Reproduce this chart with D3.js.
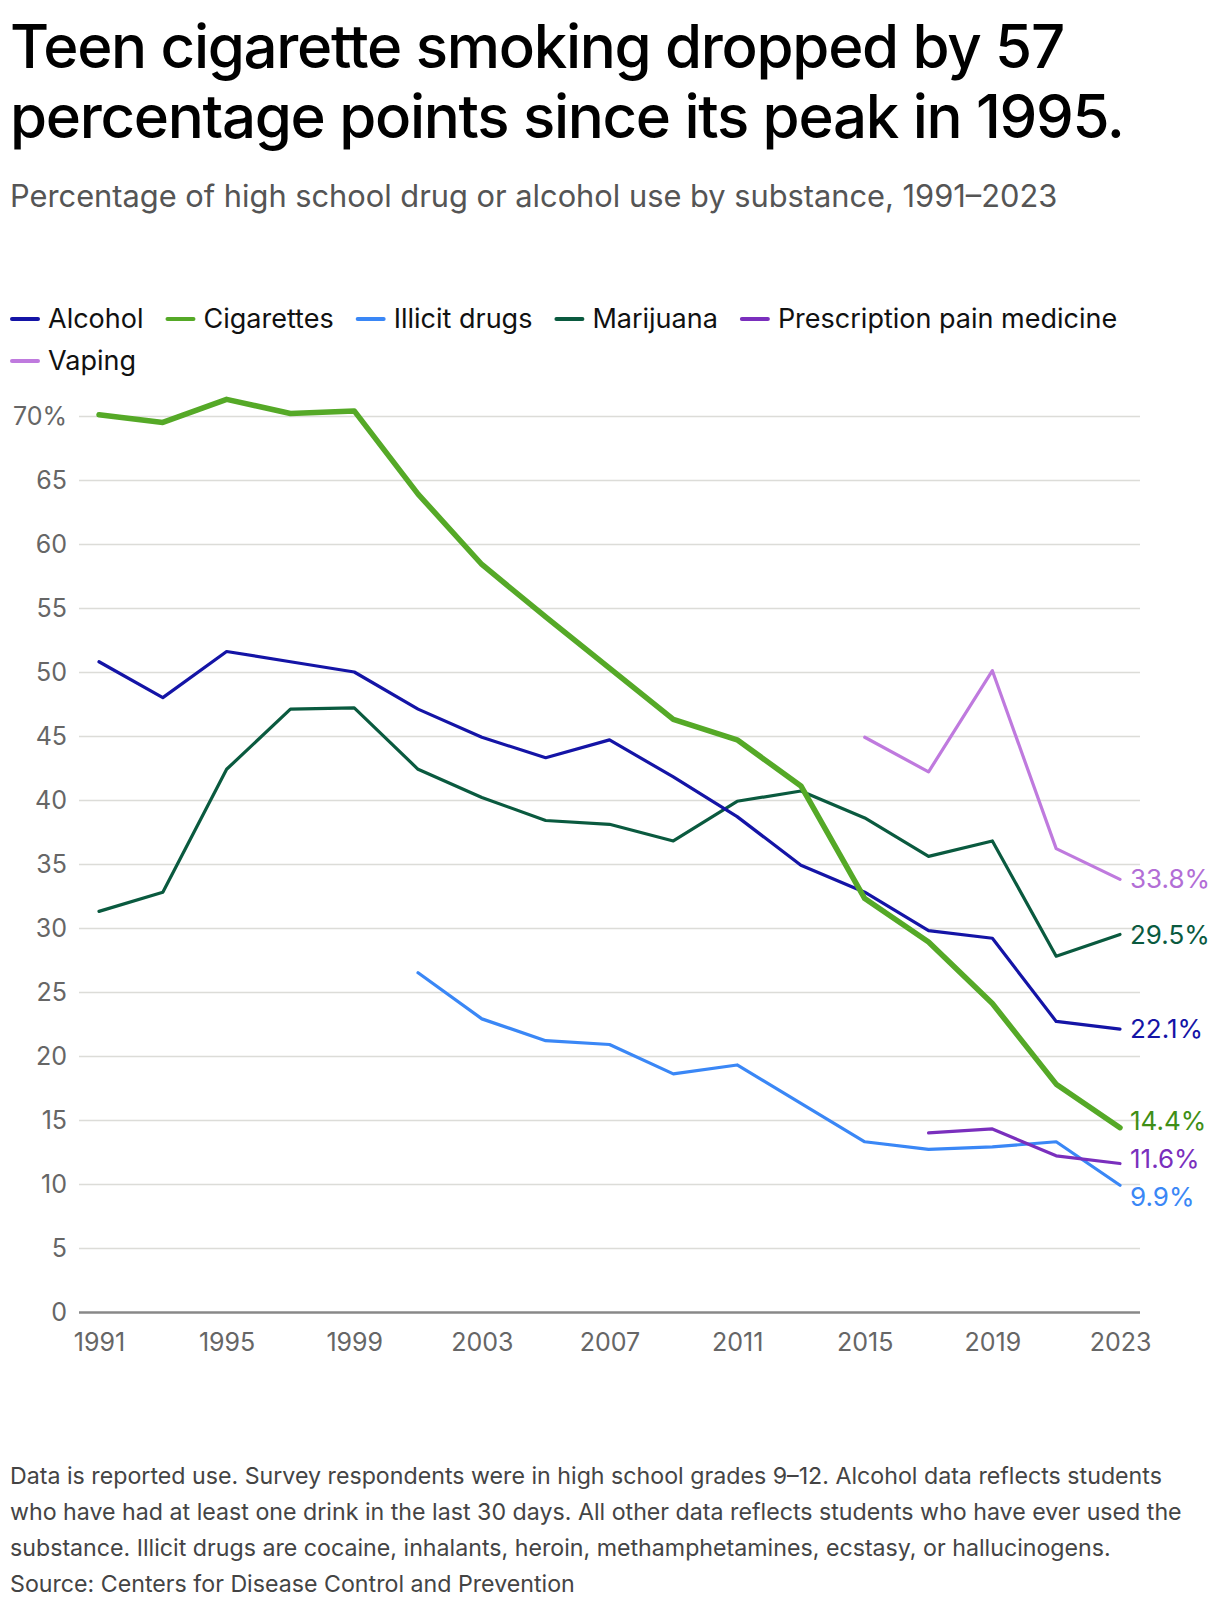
<!DOCTYPE html>
<html>
<head>
<meta charset="utf-8">
<script src="https://cdn.jsdelivr.net/npm/d3@7"></script>
<style>
    body { margin: 0; background: #fff; }
    svg text { font-family: Inter, "Noto Sans", sans-serif; }
    .title { font-size: 60px; font-weight: 500; fill: #000; letter-spacing: -1.3px; }
    .subtitle { font-size: 30.8px; fill: #555; }
    .legendText { font-size: 27px; fill: #111; }
    .tick text { font-size: 25px; fill: #666; }
    .note { font-size: 23.2px; fill: #444; }
    .endLabel { font-size: 26px; }
</style>
</head>
<body>
<script>
(function(){

    //survey years
    var years = [1991, 1993, 1995, 1997, 1999, 2001, 2003, 2005, 2007, 2009, 2011, 2013, 2015, 2017, 2019, 2021, 2023];

    //series values (percent), null where not surveyed
    var alcohol = [50.8, 48.0, 51.6, 50.8, 50.0, 47.1, 44.9, 43.3, 44.7, 41.8, 38.7, 34.9, 32.8, 29.8, 29.2, 22.7, 22.1];
    var cigarettes = [70.1, 69.5, 71.3, 70.2, 70.4, 63.9, 58.4, 54.3, 50.3, 46.3, 44.7, 41.1, 32.3, 28.9, 24.1, 17.8, 14.4];
    var illicitDrugs = [null, null, null, null, null, 26.5, 22.9, 21.2, 20.9, 18.6, 19.3, 16.3, 13.3, 12.7, 12.9, 13.3, 9.9];
    var marijuana = [31.3, 32.8, 42.4, 47.1, 47.2, 42.4, 40.2, 38.4, 38.1, 36.8, 39.9, 40.7, 38.6, 35.6, 36.8, 27.8, 29.5];
    var painMedicine = [null, null, null, null, null, null, null, null, null, null, null, null, null, 14.0, 14.3, 12.2, 11.6];
    var vaping = [null, null, null, null, null, null, null, null, null, null, null, null, 44.9, 42.2, 50.1, 36.2, 33.8];

    //labels
    var seriesNames = ["Alcohol", "Cigarettes", "Illicit drugs", "Marijuana", "Prescription pain medicine", "Vaping"];
    var xTickYears = [1991, 1995, 1999, 2003, 2007, 2011, 2015, 2019, 2023];
    var yTickValues = [0, 5, 10, 15, 20, 25, 30, 35, 40, 45, 50, 55, 60, 65, 70];
    var noteLines = [
        "Data is reported use. Survey respondents were in high school grades 9\u201312. Alcohol data reflects students",
        "who have had at least one drink in the last 30 days. All other data reflects students who have ever used the",
        "substance. Illicit drugs are cocaine, inhalants, heroin, methamphetamines, ecstasy, or hallucinogens.",
        "Source: Centers for Disease Control and Prevention"
    ];

    //styling per series
    var lineColors = ["#1414a6", "#55a927", "#3a87f6", "#0a5a3f", "#7a2fbd", "#bf7ade"];
    var labelColors = ["#1414a6", "#3f8f16", "#3a87f6", "#0a5a3f", "#7a2fbd", "#b26ed6"];
    var lineWidths = [3.2, 5.5, 3.2, 3.2, 3.2, 3.2];

    var allValues = [alcohol, cigarettes, illicitDrugs, marijuana, painMedicine, vaping];

    //build series objects for the data join
    var series = seriesNames.map(function(name, i){
        return {
            name: name,
            color: lineColors[i],
            labelColor: labelColors[i],
            width: lineWidths[i],
            values: years.map(function(y, j){ return {year: y, value: allValues[i][j]}; })
        };
    });

    var width = 1220, height = 1608;

    var svg = d3.select("body")
        .append("svg")
        .attr("width", width)
        .attr("height", height);

    //title and subtitle
    svg.append("text").attr("class", "title").attr("x", 10).attr("y", 68)
        .text("Teen cigarette smoking dropped by 57");
    svg.append("text").attr("class", "title").attr("x", 10).attr("y", 138)
        .text("percentage points since its peak in 1995.");
    svg.append("text").attr("class", "subtitle").attr("x", 10).attr("y", 207)
        .text("Percentage of high school drug or alcohol use by substance, 1991\u20132023");

    //legend, wrapping onto a second row
    var legend = svg.append("g").attr("class", "legend");
    var lx = 12, ly = 319, maxLegendX = 1160;
    series.forEach(function(s){
        var item = legend.append("g");
        item.append("line")
            .attr("x1", 0).attr("x2", 26)
            .attr("stroke", s.color)
            .attr("stroke-width", 4)
            .attr("stroke-linecap", "round");
        var t = item.append("text")
            .attr("class", "legendText")
            .attr("x", 36)
            .attr("dy", "0.35em")
            .text(s.name);
        var w = 36 + t.node().getComputedTextLength();
        if (lx + w > maxLegendX) { lx = 12; ly += 42; }
        item.attr("transform", "translate(" + lx + "," + ly + ")");
        lx += w + 24;
    });

    //scales
    var x = d3.scaleLinear().domain([1991, 2023]).range([99, 1120]);
    var y = d3.scaleLinear().domain([0, 70]).range([1312, 416]);

    //gridlines and y labels
    var yAxis = d3.axisLeft(y)
        .tickValues(yTickValues)
        .tickSize(-(1140 - 79))
        .tickPadding(12)
        .tickFormat(function(d){ return d === 70 ? d + "%" : d; });

    var gy = svg.append("g")
        .attr("class", "axis")
        .attr("transform", "translate(79,0)")
        .call(yAxis);
    gy.select(".domain").remove();
    gy.selectAll(".tick line")
        .attr("stroke", "#dcdcd8")
        .attr("stroke-width", 1.5);
    gy.selectAll(".tick").filter(function(d){ return d === 0; }).select("line")
        .attr("stroke", "#888")
        .attr("stroke-width", 2.5);

    //x labels
    var xAxis = d3.axisBottom(x)
        .tickValues(xTickYears)
        .tickSize(0)
        .tickPadding(21)
        .tickFormat(d3.format("d"));

    var gx = svg.append("g")
        .attr("class", "axis")
        .attr("transform", "translate(0,1312)")
        .call(xAxis);
    gx.select(".domain").remove();

    //line generator skipping missing years
    var line = d3.line()
        .defined(function(d){ return d.value !== null; })
        .x(function(d){ return x(d.year); })
        .y(function(d){ return y(d.value); });

    //draw thinner lines first, cigarettes on top of them
    var order = [3, 0, 2, 4, 5, 1];
    svg.append("g").selectAll(".series")
        .data(order.map(function(i){ return series[i]; }))
        .enter()
        .append("path")
        .attr("class", "series")
        .attr("d", function(d){ return line(d.values); })
        .attr("fill", "none")
        .attr("stroke", function(d){ return d.color; })
        .attr("stroke-width", function(d){ return d.width; })
        .attr("stroke-linejoin", "round")
        .attr("stroke-linecap", "round");

    //end labels with simple collision avoidance
    var ends = series.map(function(s){
        var last = s.values[s.values.length - 1];
        return {s: s, value: last.value, y: y(last.value)};
    }).sort(function(a, b){ return a.y - b.y; });

    var minGap = 38;
    for (var iter = 0; iter < 50; iter++){
        for (var k = 1; k < ends.length; k++){
            var overlap = minGap - (ends[k].y - ends[k - 1].y);
            if (overlap > 0){
                ends[k - 1].y -= overlap / 2;
                ends[k].y += overlap / 2;
            }
        }
    }

    svg.append("g").selectAll(".endLabel")
        .data(ends)
        .enter()
        .append("text")
        .attr("class", "endLabel")
        .attr("x", 1130)
        .attr("y", function(d){ return d.y; })
        .attr("dy", "0.35em")
        .attr("fill", function(d){ return d.s.labelColor; })
        .text(function(d){ return d3.format(".1f")(d.value) + "%"; });

    //notes
    svg.append("g").selectAll(".note")
        .data(noteLines)
        .enter()
        .append("text")
        .attr("class", "note")
        .attr("x", 10)
        .attr("y", function(d, i){ return 1484 + i * 36; })
        .text(function(d){ return d; });

})();
</script>
</body>
</html>
